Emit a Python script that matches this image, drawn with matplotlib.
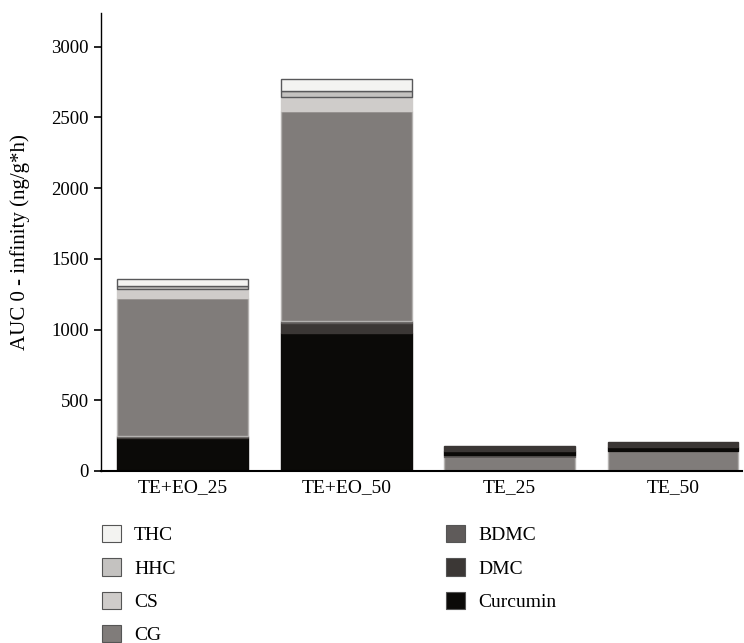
import matplotlib.pyplot as plt
from matplotlib.patches import Patch

plt.rcParams["font.family"] = ["Liberation Serif", "DejaVu Serif"]

groups = ["TE+EO_25", "TE+EO_50", "TE_25", "TE_50"]

# AUC 0-inf values (ng/g*h) per compound, one entry per group
curcumin = [235, 978, 25, 30]
dmc = [8, 70, 35, 35]
bdmc = [4, 12, 15, 0]
cg = [976, 1488, 101, 141]
cs = [67, 99, 0, 0]
hhc = [15, 40, 0, 0]
thc = [55, 83, 0, 0]

series = {
    "Curcumin": curcumin,
    "DMC": dmc,
    "BDMC": bdmc,
    "CG": cg,
    "CS": cs,
    "HHC": hhc,
    "THC": thc,
}

# stacking order (bottom -> top) differs in the TE-only groups
stack_orders = [
    ["Curcumin", "DMC", "BDMC", "CG", "CS", "HHC", "THC"],
    ["Curcumin", "DMC", "BDMC", "CG", "CS", "HHC", "THC"],
    ["CG", "BDMC", "Curcumin", "DMC"],
    ["CG", "BDMC", "Curcumin", "DMC"],
]

colors = {
    "THC": "#f3f3f1",
    "HHC": "#c4c2c0",
    "CS": "#cfccca",
    "CG": "#807c7a",
    "BDMC": "#5f5b5a",
    "DMC": "#3b3735",
    "Curcumin": "#0b0a08",
}
edges = {
    "THC": "#58585a",
    "HHC": "#58585a",
    "CS": "#cfccca",
    "CG": "#b4b2b0",
    "BDMC": "#5f5b5a",
    "DMC": "#3b3735",
    "Curcumin": "#0b0a08",
}

fig = plt.figure(figsize=(7.44, 6.43), dpi=100)
ax = fig.add_axes([0.1358, 0.2675, 0.8612, 0.7125])

for i, order in enumerate(stack_orders):
    bottom = 0
    for name in order:
        val = series[name][i]
        if val <= 0:
            continue
        ax.bar(i, val, bottom=bottom, width=0.8, color=colors[name],
               edgecolor=edges[name], linewidth=1.0, zorder=2)
        bottom += val

ax.set_xlim(-0.5, 3.42)
ax.set_ylim(0, 3240)
ax.set_yticks([0, 500, 1000, 1500, 2000, 2500, 3000])
ax.set_xticks(range(len(groups)))
ax.set_xticklabels(groups)
ax.tick_params(axis="x", length=0, pad=6, labelsize=14)
ax.tick_params(axis="y", direction="out", length=5, width=1.2, pad=4, labelsize=13.5)
ax.set_ylabel("AUC 0 - infinity (ng/g*h)", fontsize=15, labelpad=15)

for side in ("top", "right"):
    ax.spines[side].set_visible(False)
ax.spines["left"].set_linewidth(1.0)
ax.spines["bottom"].set_linewidth(1.5)

left_names = ["THC", "HHC", "CS", "CG"]
right_names = ["BDMC", "DMC", "Curcumin"]


def handles(names):
    return [Patch(facecolor=colors[n], edgecolor="#555555", linewidth=0.8, label=n) for n in names]


leg_kw = dict(frameon=False, fontsize=14, handlelength=1.0, handleheight=1.0,
              handletextpad=0.65, labelspacing=0.72, loc="upper left",
              borderaxespad=0, borderpad=0)
fig.legend(handles=handles(left_names), bbox_to_anchor=(0.137, 0.1835), **leg_kw)
fig.legend(handles=handles(right_names), bbox_to_anchor=(0.5995, 0.1835), **leg_kw)

fig.savefig("out.png", dpi=100, facecolor="white")
